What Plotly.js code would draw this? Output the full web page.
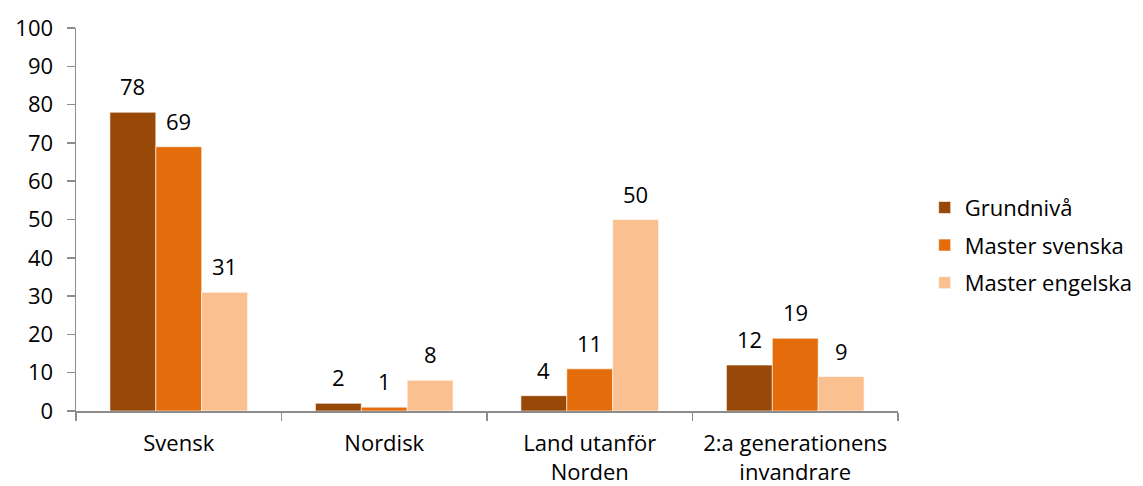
<!DOCTYPE html>
<html>
<head>
<meta charset="utf-8">
<script src="https://cdn.plot.ly/plotly-3.0.1.min.js"></script>
<style>html,body{margin:0;padding:0;background:#fff;}#chart{width:1143px;height:486px;}</style>
</head>
<body>
<div id="chart"></div>
<script>
const categories = ["Svensk", "Nordisk", "Land utanför<br>Norden", "2:a generationens<br>invandrare"];
const seriesNames = ["Grundnivå", "Master svenska", "Master engelska"];
const grundniva = [78, 2, 4, 12];
const masterSvenska = [69, 1, 11, 19];
const masterEngelska = [31, 8, 50, 9];
const yTicks = [0, 10, 20, 30, 40, 50, 60, 70, 80, 90, 100];

const colors = ["#984807", "#E46C0A", "#FAC090"];
const seriesValues = [grundniva, masterSvenska, masterEngelska];
const fontFam = "'Open Sans', sans-serif";
const fs = 22;
const bargap = 0.33;
const barW = (1 - bargap) / seriesValues.length;

const traces = seriesValues.map((vals, i) => ({
  type: "bar",
  name: seriesNames[i],
  x: categories,
  y: vals,
  marker: {color: colors[i], line: {color: "#ffffff", width: 0.6}},
  legendgroup: "g" + i
}));

const annotations = [];
seriesValues.forEach((vals, i) => {
  vals.forEach((v, j) => {
    annotations.push({
      xref: "x", yref: "y",
      x: j + (i - (seriesValues.length - 1) / 2) * barW,
      y: v,
      text: String(v),
      showarrow: false,
      yanchor: "bottom",
      yshift: 9,
      font: {family: fontFam, size: fs, color: "#000"}
    });
  });
});

const layout = {
  width: 1143, height: 486,
  margin: {l: 76, r: 245, t: 28, b: 75, autoexpand: false},
  paper_bgcolor: "#fff", plot_bgcolor: "#fff",
  barmode: "group",
  bargap: bargap,
  bargroupgap: 0,
  font: {family: fontFam, size: fs, color: "#000"},
  showlegend: true,
  annotations: annotations,
  legend: {
    xref: "container", x: 0.809, xanchor: "left",
    y: 0.433, yanchor: "middle",
    font: {family: fontFam, size: fs, color: "#000"},
    tracegroupgap: 6, traceorder: "grouped",
    itemwidth: 30
  },
  xaxis: {
    type: "category",
    showline: true, linecolor: "#8c8c8c", linewidth: 1.5,
    ticks: "outside", tickson: "boundaries", ticklen: 8, tickcolor: "#8c8c8c", tickwidth: 1.5,
    ticklabelstandoff: 12,
    showgrid: false, zeroline: false,
    tickfont: {family: fontFam, size: fs, color: "#000"}
  },
  yaxis: {
    range: [0, 100],
    tickvals: yTicks,
    ticktext: yTicks.map(String),
    showline: true, linecolor: "#8c8c8c", linewidth: 1.5,
    ticks: "outside", ticklen: 8, tickcolor: "#8c8c8c", tickwidth: 1.5,
    ticklabelstandoff: 9,
    showgrid: false, zeroline: false,
    tickfont: {family: fontFam, size: fs, color: "#000"}
  }
};

Plotly.newPlot("chart", traces, layout, {displayModeBar: false, staticPlot: true});
</script>
</body>
</html>
